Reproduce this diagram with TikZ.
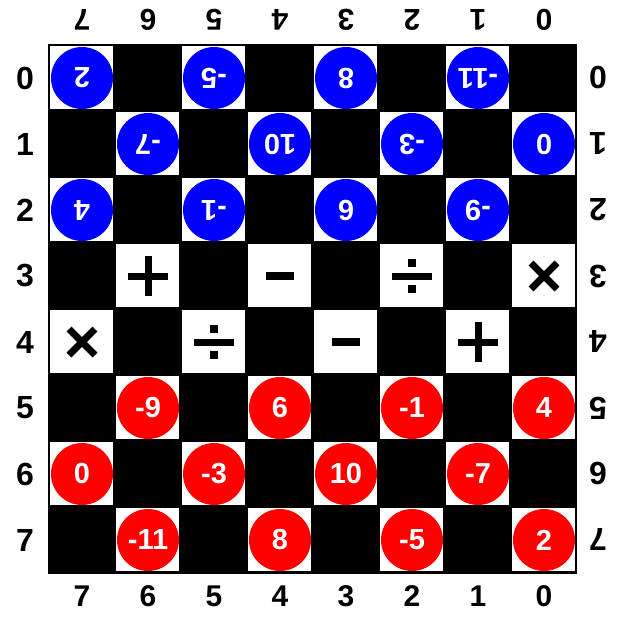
\documentclass[tikz,border=0pt]{standalone}
\usepackage{fontspec}
\setmainfont{Liberation Sans}
\usepackage{tikz}
\usetikzlibrary{positioning}
\definecolor{pieceblue}{RGB}{0,0,255}
\definecolor{piecered}{RGB}{255,0,0}

\begin{document}
\begin{tikzpicture}[
				x=1pt, y=-1pt,
				bluepc/.style={circle, fill=pieceblue, minimum size=62pt, inner sep=0pt,
					text=white, font=\bfseries\fontsize{29}{29}\selectfont, rotate=180},
				redpc/.style={circle, fill=piecered, minimum size=62pt, inner sep=0pt,
					text=white, font=\bfseries\fontsize{29}{29}\selectfont},
				sidelbl/.style={font=\bfseries\fontsize{32}{32}\selectfont},
				endlbl/.style={font=\bfseries\fontsize{30}{30}\selectfont},
				opline/.style={line width=7pt, color=black}
				]
				\useasboundingbox (0,0) rectangle (624,623);
				% board
				\fill[black] (48,44) rectangle (577,574);
				\foreach \r in {0,...,7}
					\foreach \c in {0,...,7} {
						\coordinate (c\r\c) at (82+66*\c, 78+66*\r);
						\pgfmathtruncatemacro\sq{mod(\r+\c,2)}
						\ifnum\sq=0 \fill[white] (50+66*\c,46+66*\r) rectangle ++(63,63); \fi
					}

				% labels
				\foreach \r in {0,...,7} {
					\node[sidelbl] (left\r) at (25, 78+66*\r) {\r};
					\node[sidelbl, rotate=180] (right\r) at (598, 78+66*\r) {\r};
				}
				\foreach \c [evaluate=\c as \n using int(7-\c)] in {0,...,7} {
					\node[endlbl, rotate=180] (top\c) at (82+66*\c, 20) {\n};
					\node[endlbl] (bottom\c) at (82+66*\c, 596) {\n};
				}

				% blue pieces
				\foreach \r/\c/\v in {0/0/2, 0/2/-5, 0/4/8, 0/6/-11,
						1/1/-7, 1/3/10, 1/5/-3, 1/7/0,
						2/0/4, 2/2/-1, 2/4/6, 2/6/-9}
					\node[bluepc] (b\r\c) at (c\r\c) {\v};

				% red pieces
				\foreach \r/\c/\v in {5/1/-9, 5/3/6, 5/5/-1, 5/7/4,
						6/0/0, 6/2/-3, 6/4/10, 6/6/-7,
						7/1/-11, 7/3/8, 7/5/-5, 7/7/2}
					\node[redpc] (r\r\c) at (c\r\c) {\v};

				% operators
				\foreach \p in {c31, c46} {
					\draw[opline] ([xshift=-20pt]\p) -- ([xshift=20pt]\p);
					\draw[opline] ([yshift=-20pt]\p) -- ([yshift=20pt]\p);
				}
				\foreach \p in {c33, c44}
					\draw[line width=8pt] ([xshift=-14pt]\p) -- ([xshift=14pt]\p);
				\foreach \p in {c35, c42} {
					\draw[opline] ([xshift=-20pt]\p) -- ([xshift=20pt]\p);
					\fill ([xshift=-4pt,yshift=9pt]\p) rectangle ++(8,-8);
					\fill ([xshift=-4pt,yshift=-9pt]\p) rectangle ++(8,8);
				}
				\foreach \p in {c37, c40} {
					\draw[opline] ([xshift=-13pt,yshift=-13pt]\p) -- ([xshift=13pt,yshift=13pt]\p);
					\draw[opline] ([xshift=-13pt,yshift=13pt]\p) -- ([xshift=13pt,yshift=-13pt]\p);
				}
			\end{tikzpicture}
\end{document}
